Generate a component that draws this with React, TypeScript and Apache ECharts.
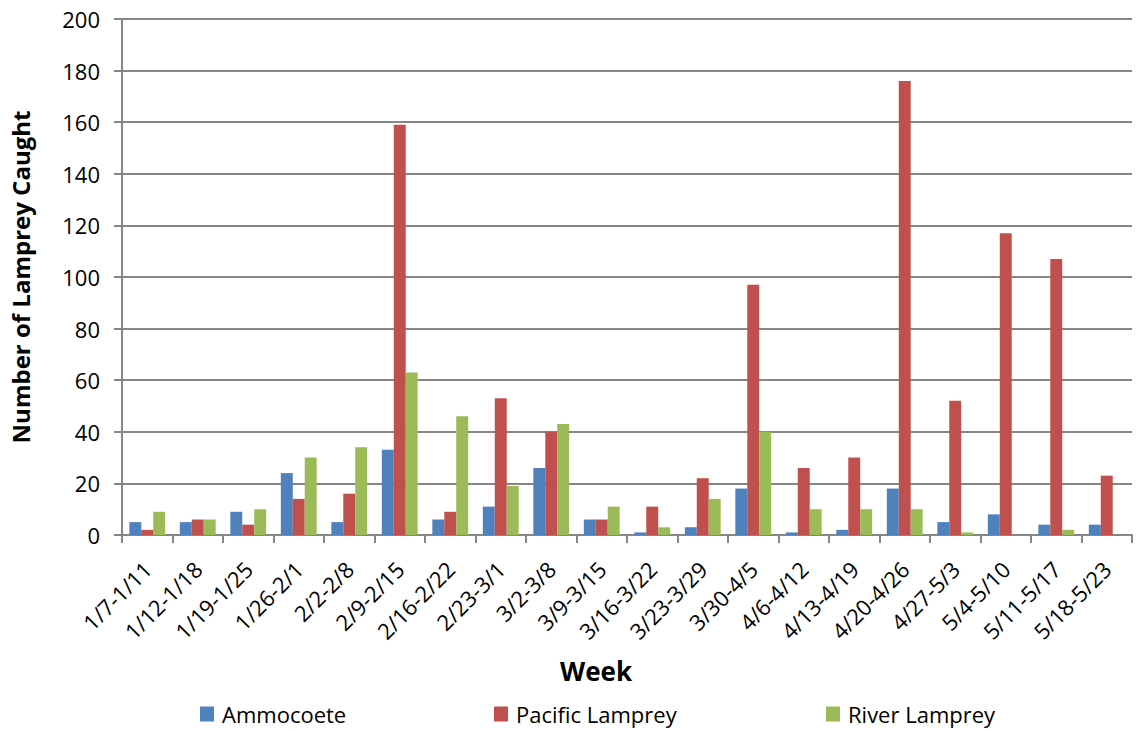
import React, { useEffect, useRef } from "react";
import * as echarts from "echarts";

const categories = [
  "1/7-1/11", "1/12-1/18", "1/19-1/25", "1/26-2/1", "2/2-2/8", "2/9-2/15", "2/16-2/22",
  "2/23-3/1", "3/2-3/8", "3/9-3/15", "3/16-3/22", "3/23-3/29", "3/30-4/5", "4/6-4/12",
  "4/13-4/19", "4/20-4/26", "4/27-5/3", "5/4-5/10", "5/11-5/17", "5/18-5/23",
];
const ammocoete = [5, 5, 9, 24, 5, 33, 6, 11, 26, 6, 1, 3, 18, 1, 2, 18, 5, 8, 4, 4];
const pacificLamprey = [2, 6, 4, 14, 16, 159, 9, 53, 40, 6, 11, 22, 97, 26, 30, 176, 52, 117, 107, 23];
const riverLamprey = [9, 6, 10, 30, 34, 63, 46, 19, 43, 11, 3, 14, 40, 10, 10, 10, 1, 0, 2, 0];
const seriesNames = ["Ammocoete", "Pacific Lamprey", "River Lamprey"];
const colors = ["#4F81BD", "#C0504D", "#9BBB59"];

const FONT = "'Open Sans', 'Liberation Sans', sans-serif";

export default function App() {
  const ref = useRef<HTMLDivElement>(null);
  useEffect(() => {
    const chart = echarts.init(ref.current!, null, { renderer: "svg" });
    const data = [ammocoete, pacificLamprey, riverLamprey];
    const legendLefts = [200, 494, 826];
    chart.setOption({
      animation: false,
      backgroundColor: "#ffffff",
      textStyle: { fontFamily: FONT },
      grid: { left: 122, right: 13, top: 19, bottom: 196, containLabel: false },
      legend: seriesNames.map((n, i) => ({
        data: [n],
        left: legendLefts[i],
        top: 703,
        padding: 0,
        icon: "rect",
        itemWidth: 14,
        itemHeight: 15,
        itemGap: 6,
        textStyle: { fontSize: 22, color: "#000", fontFamily: FONT, padding: [0, 0, 0, 3] },
      })),
      xAxis: {
        type: "category",
        data: categories,
        name: "Week",
        nameLocation: "middle",
        nameGap: 123,
        nameTextStyle: {
          fontSize: 26, fontWeight: "bold", color: "#000", fontFamily: FONT,
          padding: [0, 62, 0, 0],
        },
        axisLine: { lineStyle: { color: "#868686", width: 2 } },
        axisTick: { show: true, alignWithLabel: false, length: 8, lineStyle: { color: "#868686", width: 2 } },
        axisLabel: { rotate: 45, fontSize: 22, color: "#000", interval: 0, margin: 30, fontFamily: FONT },
      },
      yAxis: {
        type: "value",
        min: 0,
        max: 200,
        interval: 20,
        name: "Number of Lamprey Caught",
        nameLocation: "middle",
        nameGap: 90,
        nameTextStyle: { fontSize: 24, fontWeight: "bold", color: "#000", fontFamily: FONT },
        axisLine: { show: true, lineStyle: { color: "#868686", width: 2 } },
        axisTick: { show: true, length: 8, lineStyle: { color: "#868686", width: 2 } },
        axisLabel: { fontSize: 22, color: "#000", margin: 22, fontFamily: FONT },
        splitLine: { lineStyle: { color: "#868686", width: 2 } },
      },
      series: seriesNames.map((n, i) => ({
        name: n,
        type: "bar",
        data: data[i],
        barGap: "0%",
        barCategoryGap: "29%",
        itemStyle: { color: colors[i] },
      })),
    });
    return () => chart.dispose();
  }, []);
  return (
    <div
      ref={ref}
      style={{ position: "fixed", left: 0, top: 0, width: 1145, height: 731, background: "#fff" }}
    />
  );
}
